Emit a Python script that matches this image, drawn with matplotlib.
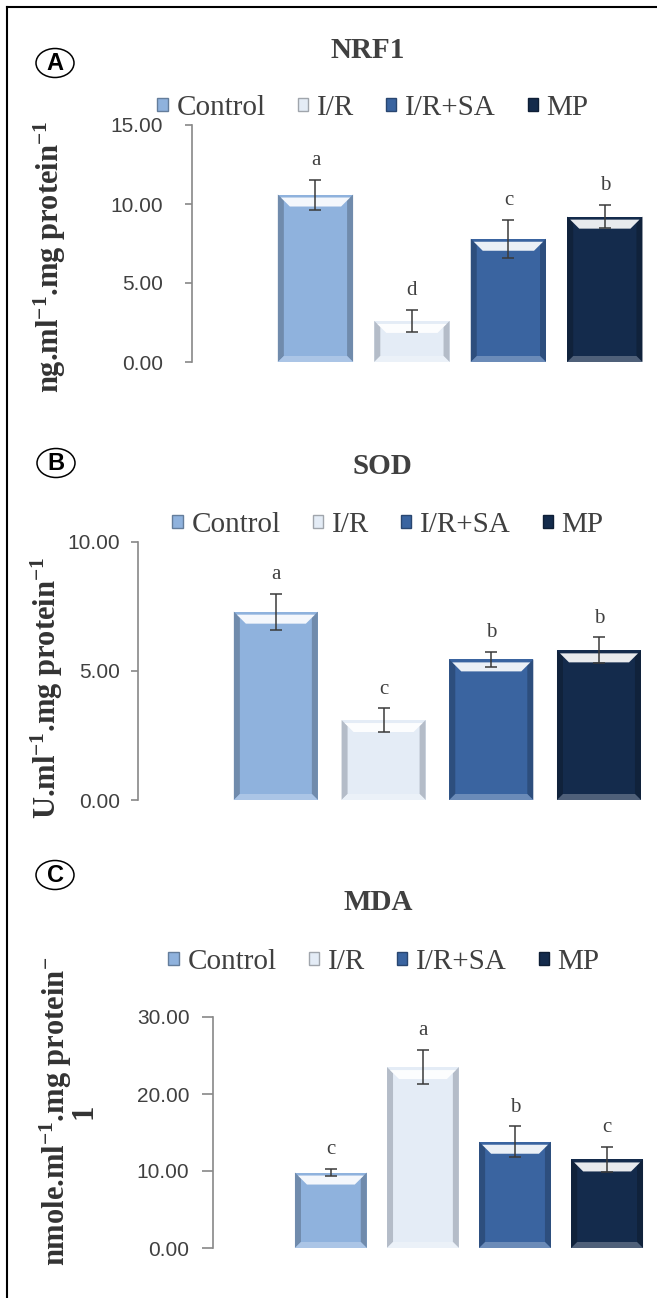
import matplotlib
matplotlib.use("Agg")
import matplotlib.pyplot as plt
import numpy as np
from matplotlib.patches import Polygon, Ellipse, Patch
from matplotlib.lines import Line2D
from matplotlib.colors import to_rgb

# Data
groups = ["Control", "I/R", "I/R+SA", "MP"]
colors = ["#8FB2DD", "#E4ECF6", "#3A64A0", "#142B4C"]

nrf1_mean = [10.6, 2.6, 7.8, 9.2]
nrf1_err = [0.95, 0.7, 1.2, 0.75]
nrf1_sig = ["a", "d", "c", "b"]

sod_mean = [7.3, 3.1, 5.45, 5.8]
sod_err = [0.7, 0.45, 0.3, 0.5]
sod_sig = ["a", "c", "b", "b"]

mda_mean = [9.8, 23.5, 13.8, 11.5]
mda_err = [0.45, 2.2, 2.0, 1.6]
mda_sig = ["c", "a", "b", "c"]

plt.rcParams["mathtext.default"] = "regular"

W, H = 657, 1298
fig = plt.figure(figsize=(W / 100, H / 100), dpi=100)
fig.patch.set_facecolor("white")

serif = ["Liberation Serif", "DejaVu Serif"]
sans = ["Liberation Sans", "DejaVu Sans"]
grey_txt = "#404040"


def px_axes(left, top, right, bottom):
    return fig.add_axes([left / W, 1 - bottom / H, (right - left) / W, (bottom - top) / H])


def mix(c, other, t):
    c = np.array(to_rgb(c))
    o = np.array(to_rgb(other))
    return tuple(c * (1 - t) + o * t)


def bevel(ax, rect, color, b=6):
    # fake the bevelled look of the original bars
    x0, y0 = ax.transData.transform((rect.get_x(), 0))
    x1, y1 = ax.transData.transform((rect.get_x() + rect.get_width(), rect.get_height()))
    inv = ax.transData.inverted()
    b = min(b, (y1 - y0) / 3)

    def poly(pts, fc):
        ax.add_patch(Polygon(inv.transform(pts), closed=True, fc=fc, ec="none", zorder=2.5))

    dark = mix(color, "black", 0.22) if color != "#E4ECF6" else "#B4BCC8"
    poly([(x0, y0), (x0, y1), (x0 + b, y1 - b), (x0 + b, y0 + b)], dark)
    poly([(x1, y0), (x1, y1), (x1 - b, y1 - b), (x1 - b, y0 + b)], dark)
    poly([(x0, y0), (x1, y0), (x1 - b, y0 + b), (x0 + b, y0 + b)], mix(color, "white", 0.25))
    # white highlight just under the top edge
    t = 3
    h = min(9, (y1 - y0) / 3)
    poly([(x0 + t, y1 - t), (x1 - t, y1 - t), (x1 - t - h, y1 - t - h), (x0 + t + h, y1 - t - h)],
         mix(color, "white", 0.9))


def panel(box, mean, err, sig, ymax, step, tick_len, tick_pad, title, title_y, legend_xy,
          ylabel, ylabel_xy, letter, letter_xy):
    ax = px_axes(*box)
    x = np.arange(len(groups))
    ax.set_xlim(-1.28, 3.52)
    ax.set_ylim(0, ymax)
    bars = ax.bar(x, mean, width=0.78, color=colors, edgecolor="none", zorder=2)
    for rect, c in zip(bars, colors):
        bevel(ax, rect, c)
    ax.errorbar(x, mean, yerr=err, fmt="none", ecolor="#3a3a3a", elinewidth=1.1,
                capsize=4.5, capthick=1.1, zorder=4)
    for xi, m, e, s in zip(x, mean, err, sig):
        ax.annotate(s, (xi, m + e), xytext=(0, 7), textcoords="offset points",
                    ha="center", va="bottom", fontsize=15, family=serif, color=grey_txt)

    ticks = np.arange(0, ymax + 0.01, step)
    ax.set_yticks(ticks)
    ax.set_yticklabels([f"{v:.2f}" for v in ticks])
    ax.tick_params(axis="y", direction="out", length=tick_len, width=1.2, color="#888888",
                   labelsize=15, labelcolor=grey_txt, pad=tick_pad)
    for lab in ax.get_yticklabels():
        lab.set_family(sans)
    ax.set_xticks([])
    for side in ["top", "right", "bottom"]:
        ax.spines[side].set_visible(False)
    ax.spines["left"].set_color("#888888")
    ax.spines["left"].set_linewidth(1.2)
    ax.patch.set_alpha(0)

    fig.text(title_y[0] / W, 1 - title_y[1] / H, title, ha="center", va="center", fontsize=21,
             fontweight="bold", family=serif, color=grey_txt)

    handles = [Patch(facecolor=c, edgecolor=mix(c, "black", 0.3)) for c in colors]
    fig.legend(handles, groups, loc="center", ncol=4, frameon=False,
               bbox_to_anchor=(legend_xy[0] / W, 1 - legend_xy[1] / H),
               prop={"family": serif, "size": 21}, labelcolor=grey_txt,
               handlelength=0.35, handleheight=0.35, handletextpad=0.3, columnspacing=1.1,
               borderpad=0)

    fig.text(ylabel_xy[0] / W, 1 - ylabel_xy[1] / H, ylabel, rotation=90, ha="center", va="center",
             fontsize=22, fontweight="bold", family=serif, color="#333333",
             multialignment="center", linespacing=0.8)

    fig.add_artist(Ellipse((letter_xy[0] / W, 1 - letter_xy[1] / H), 38 / W, 29 / H,
                           transform=fig.transFigure, fill=False, lw=1.1, ec="black"))
    fig.text(letter_xy[0] / W, 1 - (letter_xy[1] + 1) / H, letter, ha="center", va="center",
             fontsize=17, fontweight="bold", family=sans, color="black")
    return ax


panel((192, 125, 655, 362), nrf1_mean, nrf1_err, nrf1_sig, 15, 5, 5, 16, "NRF1", (368, 50),
      (373, 108), "ng.ml$^{-1}$.mg protein$^{-1}$", (50, 257), "A", (55, 63))
panel((138, 542, 655, 800), sod_mean, sod_err, sod_sig, 10, 5, 5, 8, "SOD", (382, 467),
      (388, 525), "U.ml$^{-1}$.mg protein$^{-1}$", (47, 688), "B", (56, 463))
panel((213, 1017, 655, 1248), mda_mean, mda_err, mda_sig, 30, 10, 8, 9, "MDA", (378, 902),
      (384, 962), "nmole.ml$^{-1}$.mg protein$^{-}$\n1", (68, 1111), "C", (55, 875))

# outer frame (left and top edges)
fig.add_artist(Line2D([7 / W, 7 / W], [0, 1 - 7 / H], transform=fig.transFigure, color="black", lw=1.5))
fig.add_artist(Line2D([7 / W, 1], [1 - 7 / H, 1 - 7 / H], transform=fig.transFigure, color="black", lw=1.5))

fig.savefig("out.png", dpi=100)
